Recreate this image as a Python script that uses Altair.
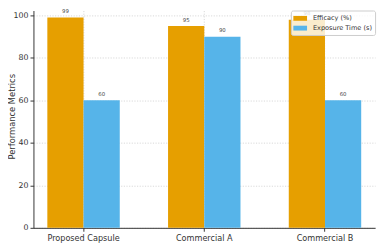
import altair as alt
import pandas as pd

categories = ["Proposed Capsule", "Commercial A", "Commercial B"]
efficacy = [99, 95, 98]
exposure = [60, 90, 60]
series = ["Efficacy (%)", "Exposure Time (s)"]
colors = ["#E69F00", "#56B4E9"]

rows = []
for c, e, x in zip(categories, efficacy, exposure):
    rows.append({"cat": c, "series": series[0], "value": e})
    rows.append({"cat": c, "series": series[1], "value": x})
df = pd.DataFrame(rows)

FONT = "DejaVu Sans"
GRID = dict(grid=True, gridDash=[1.2, 1.5], gridColor="#c8c8c8", gridWidth=0.7)

x_enc = alt.X(
    "cat:N", sort=categories, title=None,
    scale=alt.Scale(paddingInner=0.4, paddingOuter=0.115),
    axis=alt.Axis(labelAngle=0, bandPosition=0.5, tickSize=3.5,
                  tickColor="#333", domainColor="#333", labelFontSize=8.3,
                  labelColor="#333", labelPadding=2, labelFont=FONT, **GRID),
)
y_enc = alt.Y(
    "value:Q", title="Performance Metrics",
    scale=alt.Scale(domain=[0, 102.3], nice=False),
    axis=alt.Axis(values=[0, 20, 40, 60, 80, 100], tickSize=3.5,
                  tickColor="#333", domainColor="#333", labelFontSize=8,
                  labelColor="#333", labelPadding=2, titleFontSize=8.5,
                  titleFontWeight="normal", titleColor="#333",
                  titleX=-22, titleY=108, titleAngle=-90, titleAlign="center",
                  titleBaseline="middle",
                  labelFont=FONT, titleFont=FONT, **GRID),
)
color_enc = alt.Color(
    "series:N", sort=series,
    scale=alt.Scale(domain=series, range=colors),
    legend=alt.Legend(
        title=None, orient="none", legendX=263, legendY=0,
        symbolType="M-1,-0.45L1.545,-0.45L1.545,0.45L-1,0.45Z", symbolSize=121,
        symbolStrokeWidth=0, labelFontSize=6.7, labelFont=FONT,
        labelColor="#333", labelOffset=9, rowPadding=0, padding=2.5,
        fillColor="rgba(255,255,255,0.8)", strokeColor="#cccccc",
        cornerRadius=2,
    ),
)

base = alt.Chart(df).encode(
    x=x_enc, xOffset=alt.XOffset("series:N", sort=series), y=y_enc
)
bars = base.mark_bar().encode(color=color_enc)
labels = base.mark_text(dy=-3.5, fontSize=5.5, font=FONT, color="#444",
                        baseline="bottom").encode(text="value:Q")

chart = (
    alt.layer(bars, labels)
    .properties(width=349, height=222,
                autosize=alt.AutoSizeParams(type="none"),
                padding={"left": 26, "top": 0, "right": 4, "bottom": 16})
    .configure_view(stroke=None)
)
chart.save("out.html", embed_options={"renderer": "svg", "actions": False})
